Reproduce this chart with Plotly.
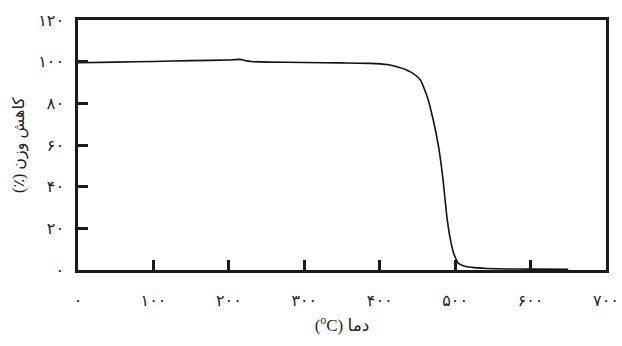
import plotly.graph_objects as go

temp = [0, 50, 100, 150, 200, 215, 221, 230, 251, 300, 350, 387, 410, 425, 437, 444,
        454, 463, 471, 478, 484, 489, 493, 498, 504, 510, 516, 530, 542, 570, 600, 650]
weight = [99.5, 99.8, 100.1, 100.5, 100.8, 101.1, 100.6, 100.1, 99.8, 99.6, 99.4, 99.2,
          98.6, 97.3, 95.8, 94.4, 91.2, 83.2, 72, 59.2, 43.2, 25.6, 16, 8, 3.3, 2.2, 1.6,
          1.0, 0.7, 0.5, 0.4, 0.3]

x_tickvals = [0, 100, 200, 300, 400, 500, 600, 700]
x_ticktext = ["۰", "۱۰۰", "۲۰۰", "۳۰۰", "۴۰۰", "۵۰۰", "۶۰۰", "۷۰۰"]
y_tickvals = [0, 20, 40, 60, 80, 100, 120]
y_ticktext = ["۰", "۲۰", "۴۰", "۶۰", "۸۰", "۱۰۰", "۱۲۰"]

x_title = "(<sup>o</sup>C) دما"
y_title = "(٪) کاهش وزن"

font_family = "Liberation Serif, DejaVu Sans, serif"

fig = go.Figure()
fig.add_trace(go.Scatter(x=temp, y=weight, mode="lines",
                         line=dict(color="#111111", width=1.6, shape="spline", smoothing=0.4),
                         showlegend=False))

axis_common = dict(showgrid=False, zeroline=False, showline=True, linecolor="#1a1a1a",
                   linewidth=2.5, mirror=True, ticks="inside", ticklen=10, tickwidth=2.5,
                   tickcolor="#1a1a1a", automargin=False,
                   tickfont=dict(size=16, color="#222", family=font_family))

fig.update_xaxes(range=[0, 700], tickvals=x_tickvals, ticktext=x_ticktext,
                 ticklabelstandoff=14,
                 title=dict(text=x_title, font=dict(size=17, color="#222", family=font_family),
                            standoff=12),
                 **axis_common)
fig.update_yaxes(range=[0, 120], tickvals=y_tickvals, ticktext=y_ticktext,
                 ticklabelstandoff=8,
                 title=dict(text=y_title, font=dict(size=16, color="#222", family=font_family),
                            standoff=10),
                 **axis_common)

fig.update_layout(width=622, height=346, margin=dict(l=78, r=16, t=20, b=76),
                  plot_bgcolor="white", paper_bgcolor="white",
                  font=dict(family=font_family, color="#222"))

fig.write_html("out.html")
